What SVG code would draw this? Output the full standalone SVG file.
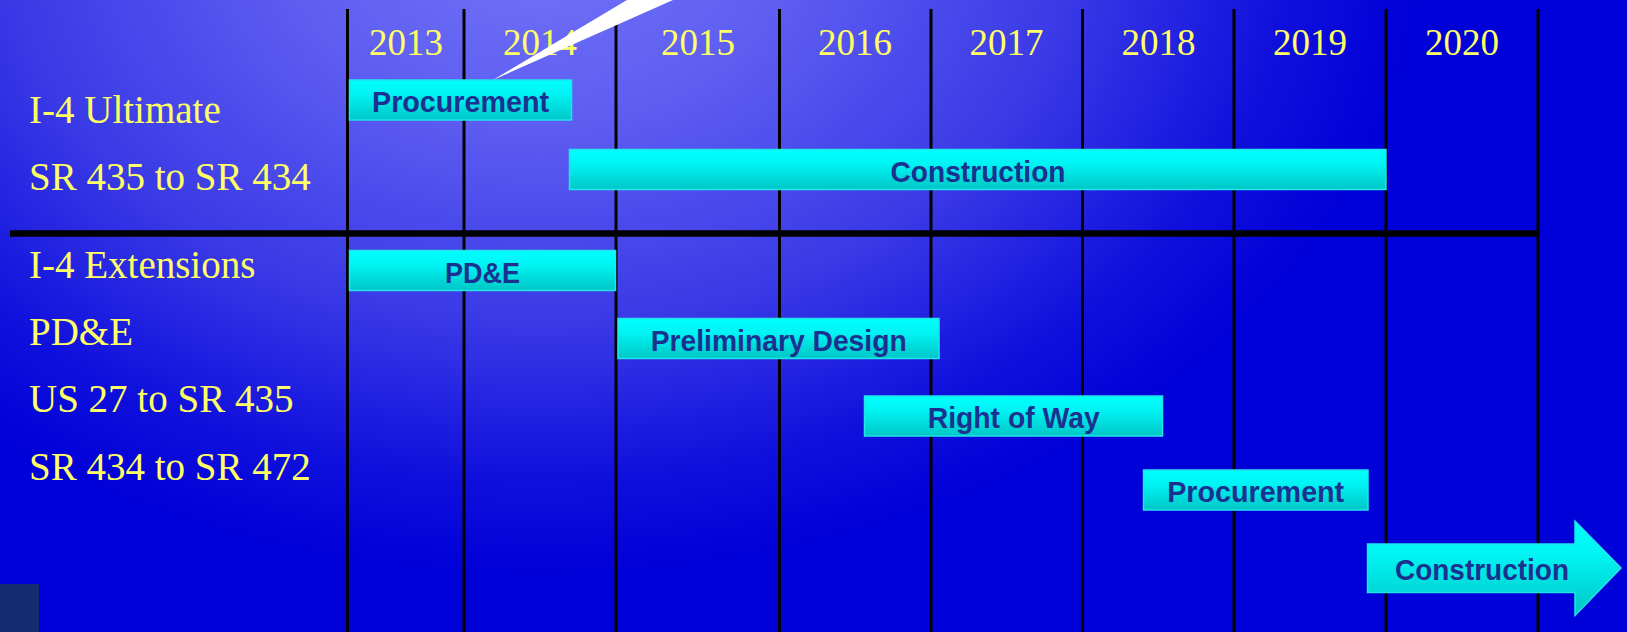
<svg xmlns="http://www.w3.org/2000/svg" width="1627" height="632" viewBox="0 0 1627 632">
<defs>
  <radialGradient id="bg" gradientUnits="userSpaceOnUse" cx="540" cy="-60" r="880" gradientTransform="translate(540 -60) scale(1 0.72) translate(-540 60)">
    <stop offset="0" stop-color="#7474FA"/>
    <stop offset="0.3" stop-color="#5C5CF1"/>
    <stop offset="0.6" stop-color="#3A3AE7"/>
    <stop offset="0.85" stop-color="#1010DD"/>
    <stop offset="1" stop-color="#0000D8"/>
  </radialGradient>
  <linearGradient id="barfill" x1="0" y1="0" x2="0" y2="1">
    <stop offset="0" stop-color="#00FFFF"/>
    <stop offset="0.35" stop-color="#00F4F4"/>
    <stop offset="1" stop-color="#00C6C6"/>
  </linearGradient>
  <style>
    .grid { stroke: #000000; stroke-width: 3; fill: none; }
    .sep { stroke: #000000; stroke-width: 6.5; fill: none; }
    .year { font-family: "Liberation Serif", "Times New Roman", serif; font-size: 37px; fill: #FFFF66; text-anchor: middle; }
    .lab { font-family: "Liberation Serif", "Times New Roman", serif; font-size: 39px; fill: #FFFF66; }
    .bar { fill: url(#barfill); stroke: #22E4EA; stroke-width: 1.5; }
    .bt { font-family: "Liberation Sans", Arial, sans-serif; font-weight: bold; font-size: 29.5px; fill: #1B3190; text-anchor: middle; }
  </style>
</defs>

<rect x="0" y="0" width="1627" height="632" fill="url(#bg)"/>

<g id="grid">
  <line class="grid" x1="347.5" y1="9" x2="347.5" y2="632"/>
  <line class="grid" x1="464" y1="9" x2="464" y2="632"/>
  <line class="grid" x1="616" y1="9" x2="616" y2="632"/>
  <line class="grid" x1="779.5" y1="9" x2="779.5" y2="632"/>
  <line class="grid" x1="931" y1="9" x2="931" y2="632"/>
  <line class="grid" x1="1082.5" y1="9" x2="1082.5" y2="632"/>
  <line class="grid" x1="1234" y1="9" x2="1234" y2="632"/>
  <line class="grid" x1="1386" y1="9" x2="1386" y2="632"/>
  <line class="grid" x1="1538" y1="9" x2="1538" y2="632"/>
  <line class="sep" x1="10" y1="233.5" x2="1539.5" y2="233.5"/>
</g>

<g id="years">
  <text class="year" x="406" y="55">2013</text>
  <text class="year" x="540" y="55">2014</text>
  <text class="year" x="698" y="55">2015</text>
  <text class="year" x="855" y="55">2016</text>
  <text class="year" x="1006.5" y="55">2017</text>
  <text class="year" x="1158.5" y="55">2018</text>
  <text class="year" x="1310" y="55">2019</text>
  <text class="year" x="1462" y="55">2020</text>
</g>

<g id="labels">
  <text class="lab" x="29" y="122.5">I-4 Ultimate</text>
  <text class="lab" x="29" y="190">SR 435 to SR 434</text>
  <text class="lab" x="29" y="277.5">I-4 Extensions</text>
  <text class="lab" x="29" y="345">PD&amp;E</text>
  <text class="lab" x="29" y="411.5">US 27 to SR 435</text>
  <text class="lab" x="29" y="479.5">SR 434 to SR 472</text>
</g>

<g id="bar-procurement-1">
  <rect class="bar" x="349.5" y="80" width="222" height="40"/>
  <text class="bt" x="460.5" y="112" textLength="177" lengthAdjust="spacingAndGlyphs">Procurement</text>
</g>
<g id="bar-construction-1">
  <rect class="bar" x="569.5" y="149.5" width="816.5" height="40"/>
  <text class="bt" x="978" y="181.5" textLength="175" lengthAdjust="spacingAndGlyphs">Construction</text>
</g>
<g id="bar-pde">
  <rect class="bar" x="349.5" y="250.5" width="266" height="40"/>
  <text class="bt" x="482.5" y="282.5" textLength="75" lengthAdjust="spacingAndGlyphs">PD&amp;E</text>
</g>
<g id="bar-preliminary-design">
  <rect class="bar" x="618" y="318.5" width="321" height="40"/>
  <text class="bt" x="778.7" y="350.5" textLength="256" lengthAdjust="spacingAndGlyphs">Preliminary Design</text>
</g>
<g id="bar-right-of-way">
  <rect class="bar" x="864.5" y="396" width="298" height="40"/>
  <text class="bt" x="1013.7" y="428" textLength="172" lengthAdjust="spacingAndGlyphs">Right of Way</text>
</g>
<g id="bar-procurement-2">
  <rect class="bar" x="1143.5" y="470" width="224.5" height="40"/>
  <text class="bt" x="1255.7" y="502" textLength="177" lengthAdjust="spacingAndGlyphs">Procurement</text>
</g>
<g id="bar-construction-2">
  <polygon class="bar" points="1367.5,544 1575,544 1575,521 1621,568 1575,615.5 1575,592.5 1367.5,592.5"/>
  <text class="bt" x="1482" y="580" textLength="174" lengthAdjust="spacingAndGlyphs">Construction</text>
</g>

<polygon id="callout" points="493,80 627,0 673,0" fill="#FFFFFF"/>

<rect id="thumbnail" x="0" y="584" width="39" height="48" fill="#142B72"/>
</svg>
